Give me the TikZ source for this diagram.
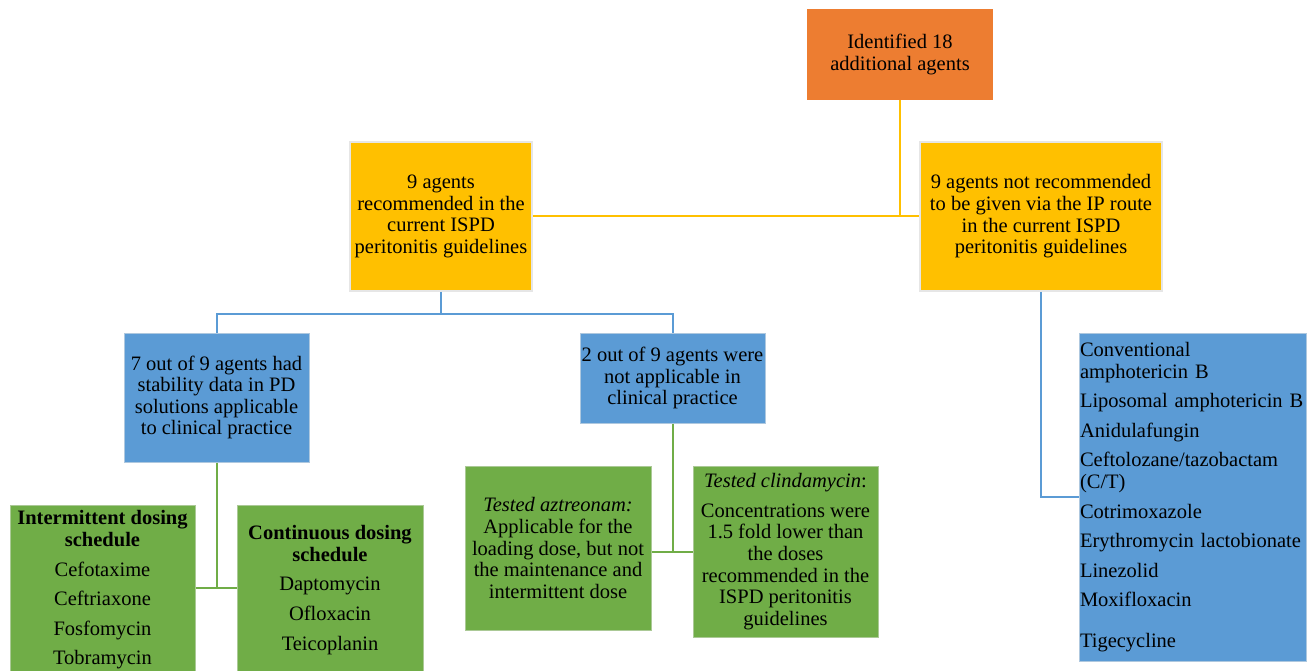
\documentclass[tikz,border=0pt]{standalone}
\usepackage{fontspec}
\setmainfont{Liberation Serif}
\usetikzlibrary{calc}
\definecolor{cor}{HTML}{ED7D31}
\definecolor{cye}{HTML}{FFC000}
\definecolor{cbl}{HTML}{5B9BD5}
\definecolor{cgr}{HTML}{70AD47}
\definecolor{cedge}{HTML}{E6E6E6}
\tikzset{
  box/.style={rectangle, inner sep=1pt, align=center, font=\fontsize{20.5}{21.6}\selectfont, text=black},
  orbox/.style={box, fill=cor},
  yebox/.style={box, fill=cye, draw=cedge, line width=1.5pt},
  blbox/.style={box, fill=cbl, draw=cedge!60!cbl, line width=1pt},
  grbox/.style={box, fill=cgr, draw=cedge!50!cgr, line width=1pt},
  yeline/.style={draw=cye, line width=2pt},
  blline/.style={draw=cbl, line width=2pt},
  grline/.style={draw=cgr, line width=2pt},
}
\begin{document}
\begin{tikzpicture}[x=1pt,y=-1pt]
\useasboundingbox (0,0) rectangle (1312,671);
\clip (0,0) rectangle (1312,671);

\node[orbox, minimum width=186pt, minimum height=91pt] (or) at (900,54.5) {Identified 18\\additional agents};
\node[yebox, minimum width=182pt, minimum height=149pt] (yl) at (441,216.5) {9 agents\\recommended in the\\current ISPD\\peritonitis guidelines};
\node[yebox, minimum width=242pt, minimum height=149pt] (yr) at (1041,216.5) {9 agents not recommended\\to be given via the IP route\\in the current ISPD\\peritonitis guidelines};

\node[blbox, minimum width=185pt, minimum height=129pt] (b1) at (216.5,397.5) {7 out of 9 agents had\\stability data in PD\\solutions applicable\\to clinical practice};
\node[blbox, minimum width=185pt, minimum height=90pt] (b2) at (672.5,378) {2 out of 9 agents were\\not applicable in\\clinical practice};
\node[blbox, minimum width=227pt, minimum height=328pt, align=left, text width=225pt, inner xsep=1pt] (br) at (1192.5,497) {Conventional\\amphotericin B\\[8pt]Liposomal amphotericin B\\[8pt]Anidulafungin\\[8pt]Ceftolozane/tazobactam\\(C/T)\\[8pt]Cotrimoxazole\\[8pt]Erythromycin lactobionate\\[8pt]Linezolid\\[8pt]Moxifloxacin\\[19pt]Tigecycline};

\node[grbox, minimum width=185pt, minimum height=170pt] (g1) at (102.5,590) {\textbf{Intermittent dosing}\\\textbf{schedule}\\[8pt]Cefotaxime\\[8pt]Ceftriaxone\\[8pt]Fosfomycin\\[8pt]Tobramycin};
\node[grbox, minimum width=186pt, minimum height=170pt] (g2) at (330,590) {\textbf{Continuous dosing}\\\textbf{schedule}\\[8pt]Daptomycin\\[8pt]Ofloxacin\\[8pt]Teicoplanin};
\node[grbox, minimum width=186pt, minimum height=164pt] (g3) at (558,548) {\textit{Tested aztreonam:}\\Applicable for the\\loading dose, but not\\the maintenance and\\intermittent dose};
\node[grbox, minimum width=185pt, minimum height=171pt] (g4) at (785.5,551.5) {\textit{Tested clindamycin}:\\[8pt]Concentrations were\\1.5 fold lower than\\the doses\\recommended in the\\ISPD peritonitis\\guidelines};

% yellow connectors
\draw[yeline] (yl.east) -- (yr.west);
\draw[yeline] (or.south) -- (or.south |- yr.west);
% blue connectors
\coordinate (bj) at ($(yl.south)+(0,22)$);
\draw[blline] (yl.south) -- (bj);
\draw[blline] (bj) -| (b1.north);
\draw[blline] (bj) -| (b2.north);
\draw[blline] (yr.south) |- (br.west);
% green connectors
\draw[grline] (g1.east |- 0,588) -- (g2.west |- 0,588);
\draw[grline] (b1.south) -- (b1.south |- 0,588);
\draw[grline] (b2.south) |- (g4.west |- 0,552);
\draw[grline] (g3.east |- 0,552) -- (b2.south |- 0,552);
\end{tikzpicture}
\end{document}
